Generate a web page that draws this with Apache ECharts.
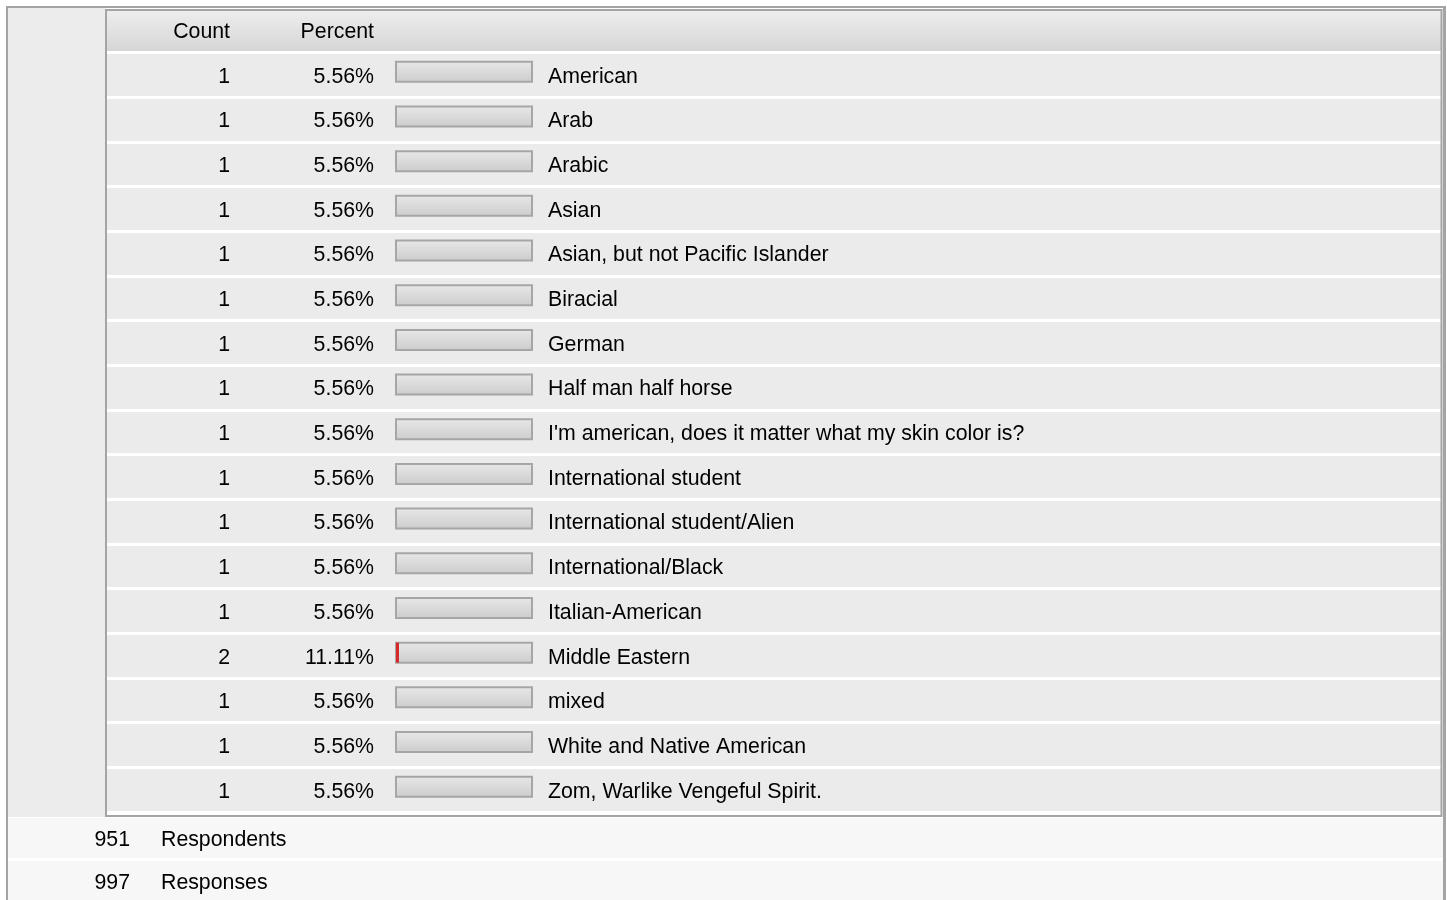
<!DOCTYPE html>
<html>
<head>
<meta charset="utf-8">
<script src="https://cdn.jsdelivr.net/npm/echarts@6/dist/echarts.min.js"></script>
<style>
    html, body { margin: 0; padding: 0; background: #fff; }
    #main { width: 1447px; height: 900px; }
</style>
</head>
<body>
<div id="main"></div>
<script>
    // table data
    var categories = ['American', 'Arab', 'Arabic', 'Asian', 'Asian, but not Pacific Islander', 'Biracial', 'German',
        'Half man half horse', "I'm american, does it matter what my skin color is?", 'International student',
        'International student/Alien', 'International/Black', 'Italian-American', 'Middle Eastern', 'mixed',
        'White and Native American', 'Zom, Warlike Vengeful Spirit.'];
    var counts = [1, 1, 1, 1, 1, 1, 1, 1, 1, 1, 1, 1, 1, 2, 1, 1, 1];
    var percents = ['5.56%', '5.56%', '5.56%', '5.56%', '5.56%', '5.56%', '5.56%', '5.56%', '5.56%', '5.56%',
        '5.56%', '5.56%', '5.56%', '11.11%', '5.56%', '5.56%', '5.56%'];
    // red fill of each little bar, in % of the bar length
    var barFill = [0, 0, 0, 0, 0, 0, 0, 0, 0, 0, 0, 0, 0, 2.2, 0, 0, 0];
    var columnTitles = ['Count', 'Percent'];
    var summaryValues = [951, 997];
    var summaryLabels = ['Respondents', 'Responses'];

    var font = '"Liberation Sans", Arial, Helvetica, sans-serif';
    var fontSize = 21.3;
    var rowTop = 52.5, rowHeight = 759.5;

    var charts = echarts.init(document.getElementById('main'));

    var hiddenY = {
        type: 'category', inverse: true, data: categories,
        axisLine: {show: false}, axisTick: {show: false}, axisLabel: {show: false}
    };

    function textAxis(pos, offset, margin, align, fmt) {
        return {
            gridIndex: 2, type: 'category', inverse: true, data: categories,
            position: pos, offset: offset,
            axisLine: {show: false}, axisTick: {show: false},
            axisLabel: {
                interval: 0, margin: margin, align: align,
                fontFamily: font, fontSize: fontSize, color: '#000',
                formatter: fmt
            }
        };
    }

    function label(txt, x, y, align) {
        return {type: 'text', style: {text: txt, x: x, y: y, align: align, verticalAlign: 'middle',
            font: fontSize + 'px ' + font, fill: '#000'}};
    }

    var graphic = [
        // left panel + outer frame
        {type: 'rect', shape: {x: 8, y: 8, width: 98, height: 809}, style: {fill: '#ececec'}},
        {type: 'rect', shape: {x: 6, y: 6, width: 2, height: 894}, style: {fill: '#a4a4a4'}, z: 10},
        {type: 'rect', shape: {x: 6, y: 6, width: 1440, height: 2}, style: {fill: '#a4a4a4'}, z: 10},
        {type: 'rect', shape: {x: 1443, y: 6, width: 3, height: 894}, style: {fill: '#a4a4a4'}, z: 10},
        // header
        {
            type: 'rect', shape: {x: 107, y: 11, width: 1334, height: 40},
            style: {fill: new echarts.graphic.LinearGradient(0, 0, 0, 1, [
                {offset: 0, color: '#ededed'}, {offset: 1, color: '#d6d6d6'}])}
        },
        label(columnTitles[0], 230, 32, 'right'),
        label(columnTitles[1], 374, 32, 'right'),
        // table border
        {type: 'rect', shape: {x: 106, y: 10, width: 1335.5, height: 806}, style: {fill: 'none', stroke: '#a4a4a4', lineWidth: 2}, z: 10}
    ];

    summaryValues.forEach(function (v, i) {
        var top = 818 + i * 43;
        graphic.push({type: 'rect', shape: {x: 8, y: top, width: 1435, height: 40}, style: {fill: '#f7f7f7'}});
        graphic.push(label(String(v), 130, top + 22, 'right'));
        graphic.push(label(summaryLabels[i], 161, top + 22, 'left'));
    });

    charts.setOption({
        animation: false,
        graphic: graphic,
        grid: [
            {left: 107, top: rowTop, width: 1334, height: rowHeight},
            {left: 396, top: rowTop - 3, width: 136, height: rowHeight},
            {left: 396, top: rowTop + 2, width: 136, height: rowHeight}
        ],
        xAxis: [
            {gridIndex: 0, type: 'value', show: false},
            {gridIndex: 1, type: 'value', min: 0, max: 100, show: false},
            {gridIndex: 2, type: 'value', show: false}
        ],
        yAxis: [
            Object.assign({}, hiddenY, {
                gridIndex: 0,
                splitArea: {show: true, interval: 0, areaStyle: {color: ['#ebebeb']}},
                splitLine: {show: true, interval: 0, lineStyle: {color: '#ffffff', width: 3}}
            }),
            Object.assign({}, hiddenY, {gridIndex: 1}),
            textAxis('left', 0, 22, 'right', function (v, i) { return percents[i]; }),
            textAxis('left', 143, 23, 'right', function (v, i) { return String(counts[i]); }),
            textAxis('right', 0, 16, 'left', null)
        ],
        series: [
            {
                type: 'bar', xAxisIndex: 1, yAxisIndex: 1,
                data: barFill, barWidth: 20,
                itemStyle: {color: '#d62a2a'},
                showBackground: true,
                backgroundStyle: {
                    color: new echarts.graphic.LinearGradient(0, 0, 0, 1, [
                        {offset: 0, color: '#e8e8e8'}, {offset: 1, color: '#cccccc'}]),
                    borderColor: '#a6a6a6',
                    borderWidth: 2
                }
            }
        ]
    });
</script>
</body>
</html>
